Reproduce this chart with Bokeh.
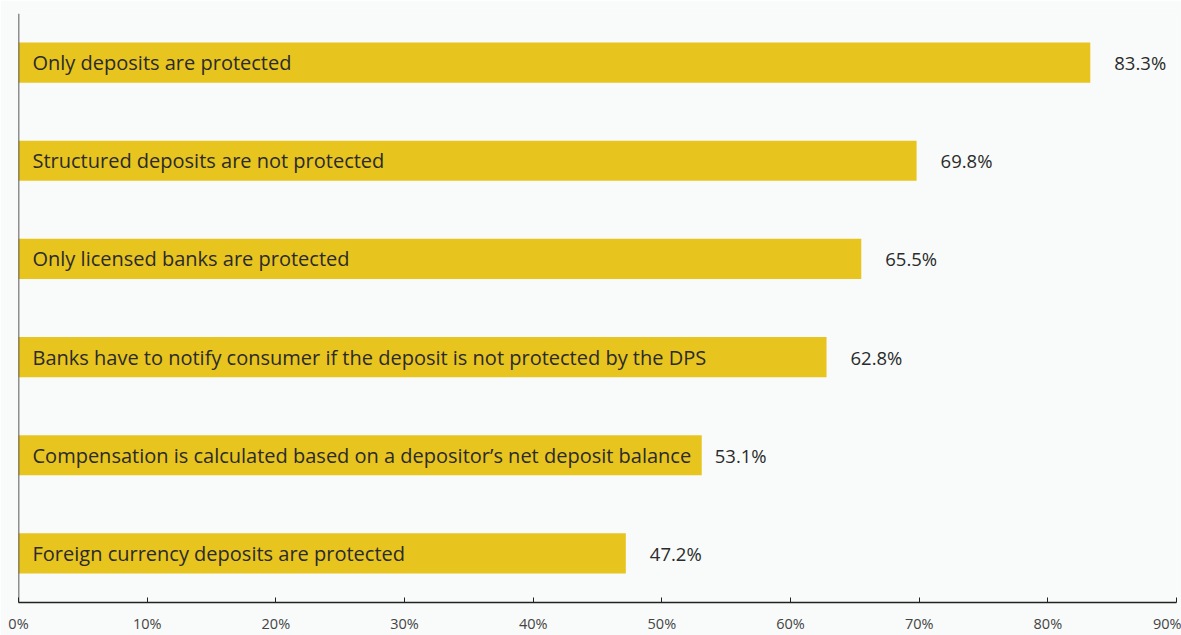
from bokeh.plotting import figure
from bokeh.models import ColumnDataSource, FactorRange, Range1d, FixedTicker, Span
from bokeh.core.properties import value
from bokeh.embed import file_html
from bokeh.resources import INLINE

categories = [
    "Only deposits are protected",
    "Structured deposits are not protected",
    "Only licensed banks are protected",
    "Banks have to notify consumer if the deposit is not protected by the DPS",
    "Compensation is calculated based on a depositor\u2019s net deposit balance",
    "Foreign currency deposits are protected",
]
values = [83.3, 69.8, 65.5, 62.8, 53.1, 47.2]
tick_values = [0, 10, 20, 30, 40, 50, 60, 70, 80, 90]
tick_labels = [f"{t}%" for t in tick_values]

FONT = "Open Sans"
BG = "#f8fbfa"

# label offsets (px): the value label sits after the bar, or after the inner text if it nearly fills the bar
label_offsets = [24, 24, 24, 24, 13, 24]

src = ColumnDataSource(dict(
    cat=categories,
    val=values,
    zero=[0] * len(values),
    vlabel=[f"{v:.1f}%" for v in values],
    xoff=label_offsets,
))

p = figure(
    width=1181, height=635,
    y_range=FactorRange(*reversed(categories), range_padding=0),
    x_range=Range1d(0, 90),
    output_backend="svg", toolbar_location=None,
    background_fill_color=BG, border_fill_color=BG,
    min_border_left=18, min_border_right=5, min_border_top=13, min_border_bottom=3,
)
p.outline_line_color = None
p.grid.visible = False

p.hbar(y="cat", left=0, right="val", height=0.41, source=src,
       fill_color="#e8c41e", line_color=None)

p.text(x="zero", y="cat", text="cat", source=src, x_offset=14,
       text_align="left", text_baseline="middle",
       text_font=value(FONT), text_font_size="20px", text_color="#2b2b2b")

p.text(x="val", y="cat", text="vlabel", source=src, x_offset="xoff",
       text_align="left", text_baseline="middle",
       text_font=value(FONT), text_font_size="18.5px", text_color="#2b2b2b")

p.yaxis.visible = False
p.add_layout(Span(location=0, dimension="height", line_color="#222222", line_width=1.5))

ax = p.xaxis[0]
ax.ticker = FixedTicker(ticks=tick_values)
ax.major_label_overrides = {t: l for t, l in zip(tick_values, tick_labels)}
ax.axis_line_color = "#222222"
ax.axis_line_width = 1.5
ax.major_tick_line_color = "#222222"
ax.major_tick_in = 5
ax.major_tick_out = 0
ax.minor_tick_line_color = None
ax.major_label_standoff = 11
ax.major_label_text_font = FONT
ax.major_label_text_font_size = "14.5px"
ax.major_label_text_color = "#444444"

open("out.html", "w").write(file_html(p, INLINE))
